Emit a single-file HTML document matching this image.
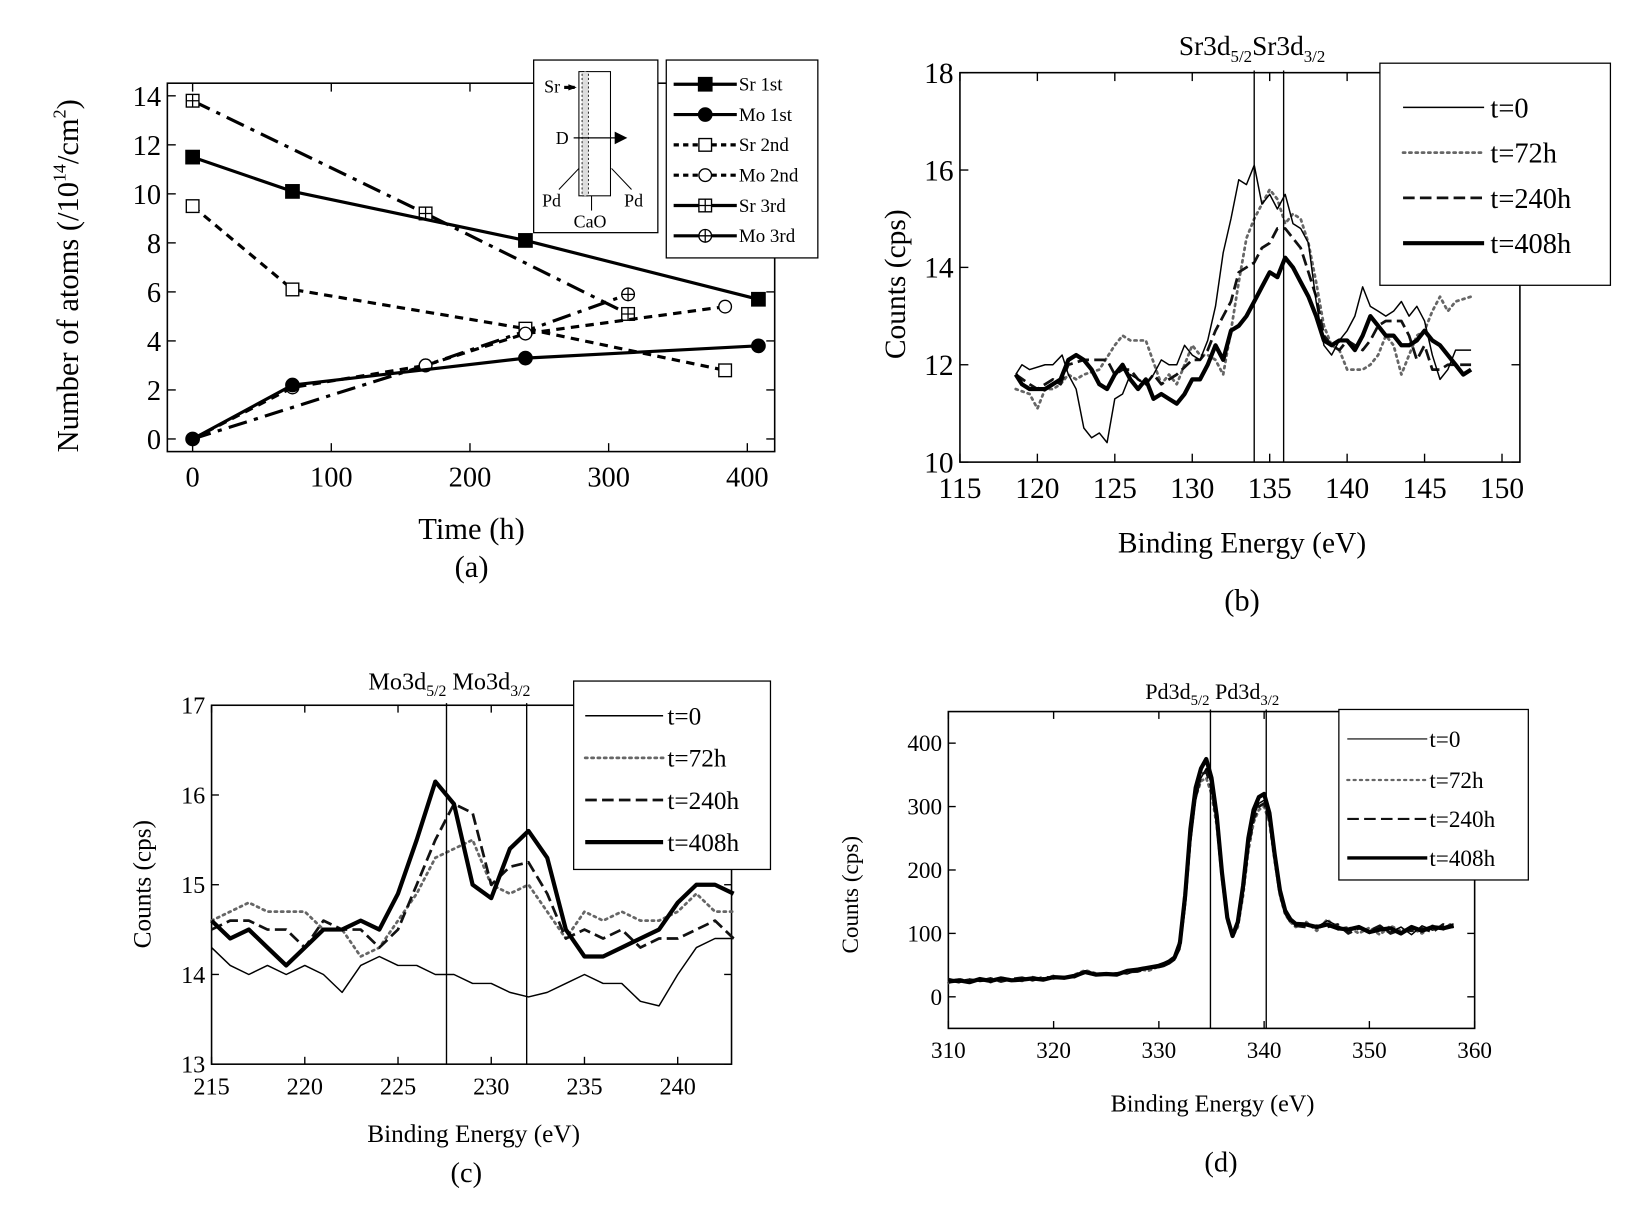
<!DOCTYPE html>
<html><head><meta charset="utf-8"><style>
html,body{margin:0;padding:0;background:#fff}
svg{display:block}
text{font-family:"Liberation Serif",serif;fill:#000}
</style></head><body>
<svg id="fig" width="1642" height="1210" viewBox="0 0 1560 1149.5" xmlns="http://www.w3.org/2000/svg">
<rect x="0" y="0" width="1560" height="1150" fill="#fff"/>
<g id="pa"></g>
<g id="pb"></g>
<g id="pc"></g>
<g id="pd"></g>
<text transform="translate(74,262) rotate(-90)" text-anchor="middle" font-size="29">Number of atoms (/10<tspan font-size="17" dy="-12">14</tspan><tspan dy="12">/cm</tspan><tspan font-size="17" dy="-12">2</tspan><tspan dy="12">)</tspan></text>
<text x="448" y="512" text-anchor="middle" font-size="29">Time (h)</text>
<text x="448" y="548" text-anchor="middle" font-size="29">(a)</text>
<text transform="translate(860,270) rotate(-90)" text-anchor="middle" font-size="28">Counts (cps)</text>
<text x="1180" y="525" text-anchor="middle" font-size="28">Binding Energy (eV)</text>
<text x="1180" y="580" text-anchor="middle" font-size="29">(b)</text>
<text x="1120" y="52" font-size="26">Sr3d<tspan font-size="16" dy="7">5/2</tspan><tspan dy="-7">Sr3d</tspan><tspan font-size="16" dy="7">3/2</tspan></text>
<text transform="translate(143,840) rotate(-90)" text-anchor="middle" font-size="24">Counts (cps)</text>
<text x="450" y="1085" text-anchor="middle" font-size="24">Binding Energy (eV)</text>
<text x="443" y="1123" text-anchor="middle" font-size="27">(c)</text>
<text x="350" y="655" font-size="23">Mo3d<tspan font-size="15" dy="6">5/2</tspan><tspan dy="-6"> Mo3d</tspan><tspan font-size="15" dy="6">3/2</tspan></text>
<text transform="translate(815,850) rotate(-90)" text-anchor="middle" font-size="22">Counts (cps)</text>
<text x="1152" y="1056" text-anchor="middle" font-size="23">Binding Energy (eV)</text>
<text x="1160" y="1113" text-anchor="middle" font-size="27">(d)</text>
<text x="1088" y="664" font-size="21">Pd3d<tspan font-size="14" dy="6">5/2</tspan><tspan dy="-6"> Pd3d</tspan><tspan font-size="14" dy="6">3/2</tspan></text>
<g>
<rect x="507" y="57" width="118" height="164" fill="#fff" stroke="#000" stroke-width="1.2"/>
<rect x="550" y="68" width="30" height="118" fill="none" stroke="#000" stroke-width="1"/>
<rect x="553" y="68" width="6" height="118" fill="#ddd" stroke="#000" stroke-width="0.8" stroke-dasharray="2,2"/>
<text x="517" y="88" font-size="17">Sr</text>
<polygon points="540,80 548,83 540,86" fill="#000"/><line x1="536" y1="83" x2="546" y2="83" stroke="#000" stroke-width="3"/>
<text x="528" y="137" font-size="17">D</text>
<line x1="545" y1="131" x2="586" y2="131" stroke="#000" stroke-width="1.2"/><polygon points="584,125 596,131 584,137" fill="#000"/>
<text x="515" y="196" font-size="17">Pd</text><line x1="531" y1="180" x2="550" y2="160" stroke="#000"/>
<text x="593" y="196" font-size="17">Pd</text><line x1="600" y1="180" x2="581" y2="160" stroke="#000"/>
<text x="545" y="216" font-size="17">CaO</text><line x1="562" y1="186" x2="562" y2="200" stroke="#000"/>
</g>
</svg>
<script>
// ---------- Panel (a) data ----------
const aSr1X=[0,72,240,408], aSr1Y=[11.5,10.1,8.1,5.7];
const aMo1X=[0,72,240,408], aMo1Y=[0,2.2,3.3,3.8];
const aSr2X=[0,72,240,384], aSr2Y=[9.5,6.1,4.5,2.8];
const aMo2X=[0,72,168,240,384], aMo2Y=[0,2.1,3.0,4.3,5.4];
const aSr3X=[0,168,314], aSr3Y=[13.8,9.2,5.1];
const aMo3X=[0,168,240,314], aMo3Y=[0,3.0,4.4,5.9];
const aXTicks=[0,100,200,300,400];
const aYTicks=[0,2,4,6,8,10,12,14];
const aLegend=["Sr 1st","Mo 1st","Sr 2nd","Mo 2nd","Sr 3rd","Mo 3rd"];
// ---------- Panel (b) data ----------
const bX0=[118.6,119,119.5,120.5,121,121.6,122,122.5,123,123.5,124,124.5,125,125.5,126,127,127.5,128,128.5,129,129.5,130,130.5,131,131.5,132,132.5,133,133.5,134,134.5,135,135.5,136,136.5,137,137.5,138,138.5,139,139.5,140,140.5,141,141.5,142,142.5,143,143.5,144,144.5,145,145.5,146,146.5,147,147.5,148];
const bY0=[11.8,12.0,11.9,12.0,12.0,12.2,11.8,11.5,10.7,10.5,10.6,10.4,11.3,11.4,11.8,11.6,11.8,12.1,12.0,12.0,12.4,12.2,12.1,12.5,13.2,14.3,15.0,15.8,15.7,16.1,15.3,15.5,15.2,15.5,14.9,14.8,14.5,13.3,12.4,12.2,12.5,12.7,13.0,13.6,13.2,13.1,13.0,13.1,13.3,13.0,13.2,12.9,12.2,11.7,11.9,12.3,12.3,12.3];
const bX72=[118.6,119.5,120,120.5,121,121.5,122,122.5,123,124,125,125.5,126,127,128,128.5,129,129.5,130,130.5,131,131.5,132,132.5,133,133.5,134,134.5,135,135.5,136,136.5,137,137.5,138,138.5,139,139.5,140,140.5,141,141.5,142,142.5,143,143.5,144,144.5,145,145.5,146,146.5,147,148];
const bY72=[11.5,11.4,11.1,11.5,11.5,11.6,11.8,11.7,11.8,11.9,12.4,12.6,12.5,12.5,11.6,11.8,11.6,12.0,12.4,12.2,12.2,12.1,11.8,12.7,13.7,14.6,15.0,15.3,15.6,15.4,14.9,15.1,15.0,14.5,13.7,12.8,12.4,12.3,11.9,11.9,11.9,12.0,12.2,12.6,12.4,11.8,12.2,12.6,12.7,13.1,13.4,13.1,13.3,13.4];
const bX240=[118.6,119.5,120,121,121.5,122,123,124,124.5,125,125.5,126,126.5,127,127.5,128,129,130,130.5,131,131.5,132,132.5,133,133.5,134,134.5,135,135.5,136,136.5,137,137.5,138,138.5,139,139.5,140,140.5,141,141.5,142,142.5,143,143.5,144,144.5,145,145.5,146,146.5,147,148];
const bY240=[11.8,11.6,11.5,11.7,11.6,12.0,12.1,12.1,12.1,11.8,11.9,11.9,11.7,11.6,11.8,11.6,11.8,12.1,12.1,12.3,12.7,13.0,13.3,13.9,14.0,14.1,14.4,14.5,14.8,14.8,14.6,14.4,13.9,13.4,12.6,12.4,12.3,12.5,12.4,12.3,12.5,12.8,12.9,12.9,12.9,12.6,12.1,12.4,11.9,11.9,12.0,12.0,12.0];
const bX408=[118.6,119,119.5,120.5,121,121.5,122,122.5,123,123.5,124,124.5,125,125.5,126,126.5,127,127.5,128,128.5,129,129.5,130,130.5,131,131.5,132,132.5,133,133.5,134,134.5,135,135.5,136,136.5,137,137.5,138,138.5,139,139.5,140,140.5,141,141.5,142,142.5,143,143.5,144,144.5,145,145.5,146,146.5,147,147.5,148];
const bY408=[11.8,11.6,11.5,11.5,11.6,11.7,12.1,12.2,12.1,11.9,11.6,11.5,11.8,12.0,11.7,11.5,11.7,11.3,11.4,11.3,11.2,11.4,11.7,11.7,12.0,12.4,12.1,12.7,12.8,13.0,13.3,13.6,13.9,13.8,14.2,14.0,13.7,13.4,13.0,12.5,12.4,12.5,12.5,12.3,12.6,13.0,12.8,12.6,12.6,12.4,12.4,12.5,12.7,12.5,12.4,12.2,12.0,11.8,11.9];
const bXTicks=[115,120,125,130,135,140,145,150];
const bYTicks=[10,12,14,16,18];
const bPeaks=[134.0,135.9];
const tLegend=["t=0","t=72h","t=240h","t=408h"];
// ---------- Panel (c) data ----------
const cX=[215,216,217,218,219,220,221,222,223,224,225,226,227,228,229,230,231,232,233,234,235,236,237,238,239,240,241,242,243];
const cY0=[14.3,14.1,14.0,14.1,14.0,14.1,14.0,13.8,14.1,14.2,14.1,14.1,14.0,14.0,13.9,13.9,13.8,13.75,13.8,13.9,14.0,13.9,13.9,13.7,13.65,14.0,14.3,14.4,14.4];
const cY72=[14.6,14.7,14.8,14.7,14.7,14.7,14.5,14.5,14.2,14.3,14.6,14.9,15.3,15.4,15.5,15.0,14.9,15.0,14.7,14.4,14.7,14.6,14.7,14.6,14.6,14.7,14.9,14.7,14.7];
const cY240=[14.5,14.6,14.6,14.5,14.5,14.3,14.6,14.5,14.5,14.3,14.5,15.0,15.5,15.9,15.8,15.0,15.2,15.25,14.9,14.4,14.5,14.4,14.5,14.3,14.4,14.4,14.5,14.6,14.4];
const cY408=[14.6,14.4,14.5,14.3,14.1,14.3,14.5,14.5,14.6,14.5,14.9,15.5,16.15,15.9,15.0,14.85,15.4,15.6,15.3,14.5,14.2,14.2,14.3,14.4,14.5,14.8,15.0,15.0,14.9];
const cXTicks=[215,220,225,230,235,240];
const cYTicks=[13,14,15,16,17];
const cPeaks=[227.6,231.9];
// ---------- Panel (d) data ----------
const dX=[310,311,312,313,314,315,316,317,318,319,320,321,322,323,324,325,326,327,328,329,330,330.5,331,331.5,332,332.5,333,333.5,334,334.5,335,335.5,336,336.5,337,337.5,338,338.5,339,339.5,340,340.5,341,341.5,342,342.5,343,344,345,346,347,348,349,350,351,352,353,354,355,356,357,358];
const dY0=[25,22,28,24,26,27,25,28,27,30,28,32,30,38,36,35,38,36,42,44,46,48,52,58,75,140,240,310,345,360,335,280,190,125,98,115,170,240,285,305,310,285,220,165,135,120,112,115,110,120,112,104,112,100,108,102,110,98,112,105,110,115];
const dY72=[22,28,24,29,23,30,27,25,31,28,33,29,35,42,37,35,36,40,44,41,48,50,55,62,90,170,260,315,340,345,320,270,185,120,95,110,160,230,275,295,300,275,215,160,130,118,110,118,104,122,106,110,100,109,98,112,104,108,100,112,106,118];
const dY240=[28,24,27,25,29,24,28,30,26,31,30,30,34,40,36,35,37,39,40,45,47,50,54,60,80,150,250,320,350,355,330,275,190,122,96,112,165,235,280,300,305,280,218,162,132,118,112,110,112,110,114,100,108,104,112,100,106,104,108,102,114,110];
const dY408=[24,26,23,28,25,29,26,27,29,27,31,30,33,39,35,36,35,41,43,46,49,52,56,62,85,160,265,330,360,375,345,285,195,125,96,118,175,250,295,315,320,290,225,168,136,122,115,114,110,114,108,106,110,102,106,108,100,110,104,110,108,112];
const dXTicks=[310,320,330,340,350,360];
const dYTicks=[0,100,200,300,400];
const dPeaks=[334.9,340.2];

const NS="http://www.w3.org/2000/svg";
function mk(parent,tag,attrs){const e=document.createElementNS(NS,tag);for(const k in attrs)e.setAttribute(k,attrs[k]);parent.appendChild(e);return e;}
function scale(d0,d1,r0,r1){return v=>r0+(v-d0)*(r1-r0)/(d1-d0);}

function axes(g,box,sx,sy,xt,yt,fs,tickLen,allSides){
  const r=mk(g,'rect',{x:box.l,y:box.t,width:box.r-box.l,height:box.b-box.t,fill:'none',stroke:'#000','stroke-width':1.5});
  
  
  xt.forEach(v=>{const x=sx(v);
    mk(g,'line',{x1:x,x2:x,y1:box.b,y2:box.b-tickLen,stroke:'#000','stroke-width':1.3});
    if(allSides) mk(g,'line',{x1:x,x2:x,y1:box.t,y2:box.t+tickLen,stroke:'#000','stroke-width':1.3});
    const t=mk(g,'text',{x:x,y:box.b+fs+6,'text-anchor':'middle','font-size':fs});t.textContent=v;
    
    
  });
  yt.forEach(v=>{const y=sy(v);
    mk(g,'line',{x1:box.l,x2:box.l+tickLen,y1:y,y2:y,stroke:'#000','stroke-width':1.3});
    if(allSides) mk(g,'line',{x1:box.r,x2:box.r-tickLen,y1:y,y2:y,stroke:'#000','stroke-width':1.3});
    const t=mk(g,'text',{x:box.l-6,y:y+fs*0.35,'text-anchor':'end','font-size':fs});t.textContent=v;
    
    
  });
}
function line(g,xs,ys,sx,sy,style,name){
  const pts=xs.map((x,i)=>sx(x).toFixed(1)+','+sy(ys[i]).toFixed(1)).join(' ');
  const p=mk(g,'polyline',Object.assign({points:pts,fill:'none','stroke-linejoin':'round'},style));
  
  
  return p;
}
function marker(g,x,y,type){
  const s=7;
  if(type==='fsq') mk(g,'rect',{x:x-s,y:y-s,width:2*s,height:2*s,fill:'#000'});
  if(type==='osq') mk(g,'rect',{x:x-s+1,y:y-s+1,width:2*s-2,height:2*s-2,fill:'#fff',stroke:'#000','stroke-width':1.3});
  if(type==='fci') mk(g,'circle',{cx:x,cy:y,r:s,fill:'#000'});
  if(type==='oci') mk(g,'circle',{cx:x,cy:y,r:s-1,fill:'#fff',stroke:'#000','stroke-width':1.3});
  if(type==='psq'){mk(g,'rect',{x:x-s+1,y:y-s+1,width:2*s-2,height:2*s-2,fill:'#fff',stroke:'#000','stroke-width':1.3});
    mk(g,'path',{d:`M${x-s+1},${y}H${x+s-1}M${x},${y-s+1}V${y+s-1}`,stroke:'#000','stroke-width':1.2});}
  if(type==='pci'){mk(g,'circle',{cx:x,cy:y,r:s-1,fill:'#fff',stroke:'#000','stroke-width':1.3});
    mk(g,'path',{d:`M${x-s+1},${y}H${x+s-1}M${x},${y-s+1}V${y+s-1}`,stroke:'#000','stroke-width':1.2});}
}
const solid={stroke:'#000','stroke-width':3};
const dash={stroke:'#000','stroke-width':3,'stroke-dasharray':'8,6'};
const dashdot={stroke:'#000','stroke-width':3,'stroke-dasharray':'18,7,4,7'};

(function(){
  const g=document.getElementById('pa');
  const box={l:159,r:736,t:79,b:429};
  const sx=scale(0,400,183,710), sy=scale(0,14,417,91);
  axes(g,box,sx,sy,aXTicks,aYTicks,27,8,true);
  const series=[[aSr3X,aSr3Y,dashdot,'psq','sr-3rd'],[aMo3X,aMo3Y,dashdot,'pci','mo-3rd'],
    [aSr2X,aSr2Y,dash,'osq','sr-2nd'],[aMo2X,aMo2Y,dash,'oci','mo-2nd'],
    [aSr1X,aSr1Y,solid,'fsq','sr-1st'],[aMo1X,aMo1Y,solid,'fci','mo-1st']];
  series.forEach(s=>{line(g,s[0],s[1],sx,sy,s[2],s[4]+'-line');
    s[0].forEach((x,i)=>marker(g,sx(x),sy(s[1][i]),s[3]));});
  const lg=mk(g,'g',{});
  
  
  mk(lg,'rect',{x:633,y:57,width:144,height:188,fill:'#fff',stroke:'#000','stroke-width':1.2});
  const st=[solid,solid,dash,dash,solid,solid], mks=['fsq','fci','osq','oci','psq','pci'];
  aLegend.forEach((n,i)=>{const y=80+i*28.8;
    mk(lg,'line',Object.assign({x1:640,x2:700,y1:y,y2:y},st[i],{'stroke-dasharray':st[i]===dash?'5,4':'none'}));
    marker(lg,670,y,mks[i]);
    const t=mk(lg,'text',{x:702,y:y+6,'font-size':18});t.textContent=n;
    
    });
})();

function tStyles(w){return [
  {stroke:'#000','stroke-width':1.4*w},
  {stroke:'#666','stroke-width':2.6*w,'stroke-dasharray':'2,4','stroke-linecap':'round'},
  {stroke:'#111','stroke-width':2.6*w,'stroke-dasharray':'11,5'},
  {stroke:'#000','stroke-width':4*w}];}
function tLegendDraw(g,bx,by,bw,bh,lx0,lx1,tx,rows,fs,w){
  const lg=mk(g,'g',{});
  
  
  mk(lg,'rect',{x:bx,y:by,width:bw,height:bh,fill:'#fff',stroke:'#000','stroke-width':1.2});
  const st=tStyles(w);
  tLegend.forEach((n,i)=>{const y=rows[i];
    mk(lg,'line',Object.assign({x1:lx0,x2:lx1,y1:y,y2:y},st[i]));
    const t=mk(lg,'text',{x:tx,y:y+fs*0.35,'font-size':fs});t.textContent=n;
    
    });
}
function peaks(g,pk,sx,box){pk.forEach(v=>{const l=mk(g,'line',{x1:sx(v),x2:sx(v),y1:box.t-2,y2:box.b,stroke:'#000','stroke-width':1.3});
  
  });}

(function(){
  const g=document.getElementById('pb');
  const box={l:912,r:1444,t:69,b:439};
  const sx=scale(115,150,912,1427), sy=scale(10,18,439,69);
  axes(g,box,sx,sy,bXTicks,bYTicks,28,8,true);
  const st=tStyles(1);
  line(g,bX72,bY72,sx,sy,st[1],'t72-line');
  line(g,bX240,bY240,sx,sy,st[2],'t240-line');
  line(g,bX0,bY0,sx,sy,st[0],'t0-line');
  line(g,bX408,bY408,sx,sy,st[3],'t408-line');
  peaks(g,bPeaks,sx,box);
  tLegendDraw(g,1311,60,219,211,1333,1410,1416,[102,145,188,231],27,1);
})();

(function(){
  const g=document.getElementById('pc');
  const box={l:201,r:695,t:670,b:1011};
  const sx=scale(215,243,201,697), sy=scale(13,17,1011,670);
  axes(g,box,sx,sy,cXTicks,cYTicks,23,7,true);
  const st=tStyles(1);
  line(g,cX,cY0,sx,sy,st[0],'t0-line');
  line(g,cX,cY72,sx,sy,st[1],'t72-line');
  line(g,cX,cY240,sx,sy,st[2],'t240-line');
  line(g,cX,cY408,sx,sy,st[3],'t408-line');
  peaks(g,cPeaks,sx,box);
  tLegendDraw(g,545,647,187,179,556,630,634,[680,720,760,800],24,1);
})();

(function(){
  const g=document.getElementById('pd');
  const box={l:901,r:1401,t:676,b:977};
  const sx=scale(310,360,901,1401), sy=scale(0,400,947,706);
  axes(g,box,sx,sy,dXTicks,dYTicks,22,7,true);
  const st=tStyles(1);
  line(g,dX,dY72,sx,sy,st[1],'t72-line');
  line(g,dX,dY0,sx,sy,st[0],'t0-line');
  line(g,dX,dY240,sx,sy,st[2],'t240-line');
  line(g,dX,dY408,sx,sy,st[3],'t408-line');
  peaks(g,dPeaks,sx,box);
  tLegendDraw(g,1272,674,180,162,1280,1356,1358,[702,741,778,815],22,0.8);
})();
</script>
</body></html>
